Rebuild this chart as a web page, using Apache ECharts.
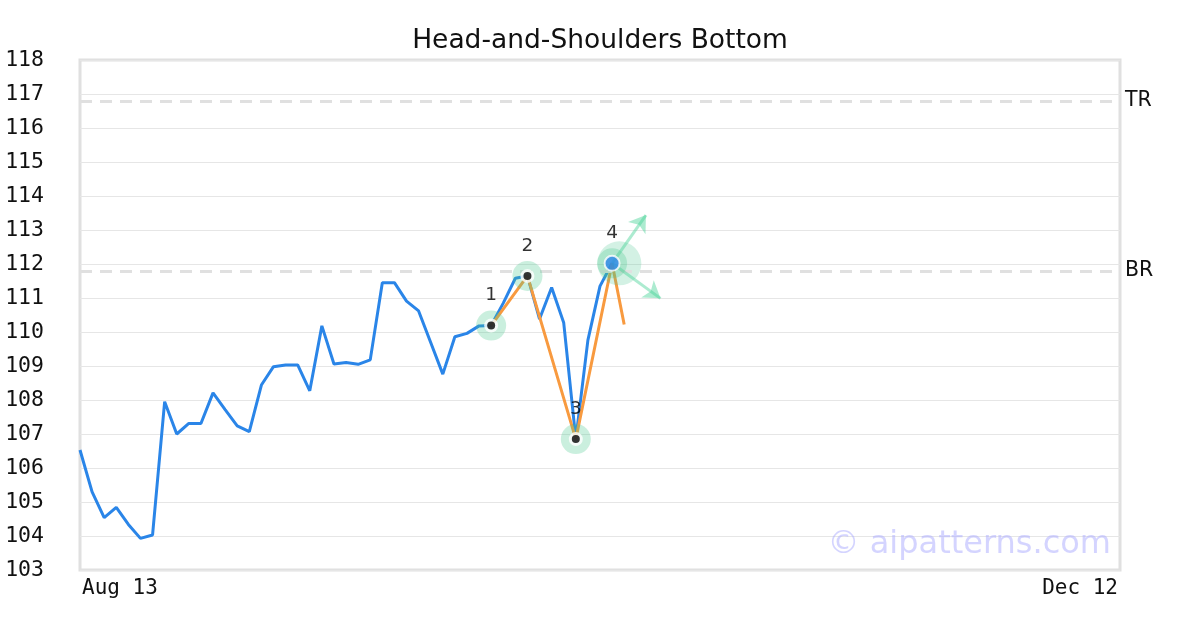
<!DOCTYPE html>
<html>
<head>
<meta charset="utf-8">
<script src="https://cdn.jsdelivr.net/npm/echarts@6/dist/echarts.min.js"></script>
<style>html,body{margin:0;padding:0;background:#fff;}#c{width:1200px;height:630px;}</style>
</head>
<body>
<div id="c"></div>
<script>
// ---- data ----
const titleText = 'Head-and-Shoulders Bottom';
const xTickPositions = [0, 86];
const xTickLabels = ['Aug 13', 'Dec 12'];
const priceValues = [
  106.53, 105.30, 104.54, 104.84, 104.34, 103.93, 104.03, 107.95, 107.00, 107.31,
  107.31, 108.21, 107.72, 107.24, 107.07, 108.44, 108.98, 109.03, 109.03, 108.27,
  110.18, 109.06, 109.10, 109.05, 109.18, 111.45, 111.45, 110.91, 110.62, 109.69,
  108.76, 109.86, 109.96, 110.18, 110.19, 110.85, 111.58, 111.65, 110.38, 111.31,
  110.27, 106.85, 109.76, 111.35, 112.02
];
const patternIdx = [34, 37, 41, 44];
const patternVal = [110.19, 111.65, 106.85, 112.02];
const patternLabels = ['1', '2', '3', '4'];
const orangeIdx = [34, 37, 41, 44, 45];
const orangeVal = [110.19, 111.65, 106.85, 112.02, 110.22];
const levelNames = ['TR', 'BR'];
const levelValues = [116.8, 111.8];
const arrowEnds = [[46.8, 113.44], [48.0, 110.99]];
const projCenter = [44.6, 112.02];

// ---- build ----
const mono = 'DejaVu Sans Mono';
const sans = 'DejaVu Sans';
const pricePts = priceValues.map((v, i) => [i, v]);
const patPts = patternIdx.map((x, i) => [x, patternVal[i]]);
const orangePts = orangeIdx.map((x, i) => [x, orangeVal[i]]);
const green = 'rgba(72,199,142,0.36)';

const chart = echarts.init(document.getElementById('c'), null, {renderer: 'canvas'});
chart.setOption({
  animation: false,
  backgroundColor: '#fff',
  title: {
    text: titleText, left: 'center', top: 23,
    textStyle: {fontFamily: sans, fontSize: 26.5, fontWeight: 'normal', color: '#111'}
  },
  grid: {left: 80, right: 80, top: 60, bottom: 60, show: true, borderColor: '#e0e0e0', borderWidth: 3},
  xAxis: {
    type: 'value', min: xTickPositions[0], max: xTickPositions[1],
    interval: xTickPositions[1] - xTickPositions[0],
    axisLine: {show: false}, axisTick: {show: false}, splitLine: {show: false},
    axisLabel: {
      fontFamily: mono, fontSize: 21, color: '#111', margin: 8,
      padding: [0, 2, 0, 2],
      alignMinLabel: 'left', alignMaxLabel: 'right',
      formatter: v => { const k = xTickPositions.indexOf(v); return k >= 0 ? xTickLabels[k] : ''; }
    }
  },
  yAxis: {
    type: 'value', min: 103, max: 118, interval: 1,
    axisLine: {show: false}, axisTick: {show: false},
    splitLine: {lineStyle: {color: '#e6e6e6', width: 1}},
    axisLabel: {fontFamily: mono, fontSize: 21.5, color: '#111', margin: 36,
                padding: [5, 0, 0, 0]}
  },
  graphic: [{
    type: 'text', right: 89, top: 529, z: 100,
    style: {text: '© aipatterns.com', font: '32px "DejaVu Sans"', fill: 'rgba(170,170,255,0.5)'}
  }],
  series: [
    {
      type: 'line', data: [], silent: true,
      markLine: {
        silent: true, symbol: 'none',
        lineStyle: {color: '#e0e0e0', width: 3, type: [12, 8]},
        label: {position: 'end', formatter: '{b}', fontFamily: sans, fontSize: 20.5, color: '#111',
                distance: 5, padding: [5, 0, 0, 0]},
        data: levelNames.map((n, i) => ({name: n, yAxis: levelValues[i]}))
      }
    },
    {
      type: 'line', data: pricePts, showSymbol: false, z: 2,
      lineStyle: {color: '#2a85e8', width: 3}
    },
    {
      type: 'line', data: orangePts, showSymbol: false, z: 3,
      lineStyle: {color: '#f89a3f', width: 3}
    },
    {
      type: 'scatter', data: [projCenter], symbolSize: 44, z: 4,
      itemStyle: {color: 'rgba(72,199,142,0.3)'}
    },
    {
      type: 'line', data: [], z: 4,
      markLine: {
        silent: true, symbol: ['none', 'arrow'], symbolSize: 16,
        lineStyle: {color: 'rgba(72,210,150,0.45)', width: 3, type: 'solid'},
        label: {show: false},
        data: arrowEnds.map(e => [{coord: patPts[3]}, {coord: e}])
      }
    },
    {
      type: 'scatter', data: patPts, symbolSize: 30, z: 5,
      itemStyle: {color: green}
    },
    {
      type: 'scatter', data: patPts.slice(0, 3), symbolSize: 14, z: 6,
      itemStyle: {color: '#fff'}
    },
    {
      type: 'scatter', data: patPts.slice(0, 3), symbolSize: 8, z: 7,
      itemStyle: {color: '#000'}
    },
    {
      type: 'scatter', data: [patPts[3]], symbolSize: 15, z: 7,
      itemStyle: {color: '#2a85e8', borderColor: '#fff', borderWidth: 2}
    },
    {
      type: 'scatter', z: 8, symbolSize: 1, itemStyle: {color: 'rgba(0,0,0,0)'},
      data: patPts.map((p, i) => ({value: p, name: patternLabels[i]})),
      label: {show: true, position: 'inside', offset: [0, -30], formatter: '{b}',
              fontFamily: sans, fontSize: 18.5, color: '#000'}
    }
  ]
});
</script>
</body>
</html>
